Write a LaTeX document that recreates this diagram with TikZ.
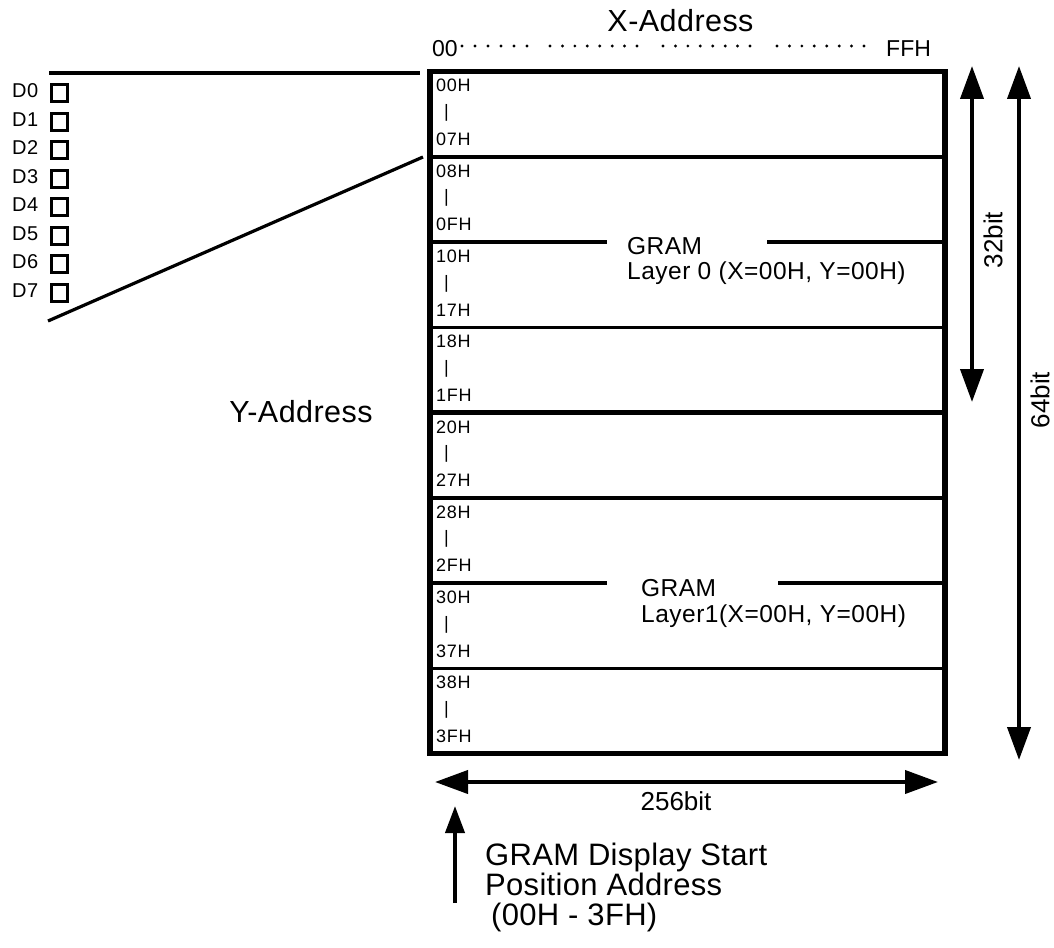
\documentclass[tikz,border=0pt]{standalone}
\usepackage{fontspec}
\setmainfont{Liberation Sans}
\usetikzlibrary{arrows.meta}
\newcommand\fsz[2]{\fontsize{#1}{#1}\selectfont\addfontfeatures{LetterSpace=#2}}
\begin{document}
\begin{tikzpicture}[x=1pt,y=-1pt,
  rowlbl/.style={font=\fsz{18}{4},inner sep=0,anchor=base west},
  dlbl/.style={font=\fsz{20}{3},inner sep=0,anchor=base west},
  dbox/.style={draw,line width=3pt,minimum width=16pt,minimum height=17pt,inner sep=0},
  biglbl/.style={font=\fsz{30.5}{1.5},inner sep=0,anchor=base},
  addrlbl/.style={font=\fsz{23}{0},inner sep=0,anchor=base west},
  gramlbl/.style={font=\fsz{24.5}{2},inner sep=0,anchor=base west},
  notelbl/.style={font=\fsz{31}{1},inner sep=0,anchor=base west},
  dimlbl/.style={font=\fsz{26}{0},inner sep=0},
  divider/.style={line width=3.5pt},
  thickdiv/.style={line width=5.5pt},
  dimarrow/.style={line width=4pt,{Triangle[length=33pt,width=23pt]}-{Triangle[length=33pt,width=23pt]}},
  uparrow/.style={line width=4pt,-{Triangle[length=27pt,width=19pt]}},
  wire/.style={line width=3.2pt},
  xdot/.style={fill,circle,inner sep=0,minimum size=3.2pt}
]
\useasboundingbox (0,0) rectangle (1054,947);

% GRAM box
\node[draw,line width=5.5pt,minimum width=515pt,minimum height=682pt,inner sep=0,outer sep=0,anchor=north west] (gram) at (430,71.5) {};

% dividers
\foreach \yy in {156.75,327.25,497.75,668.25}{
  \draw[divider] (430,\yy) -- (945,\yy);
}
\draw[thickdiv] (430,412.5) -- (945,412.5);
\draw[divider] (430,242) -- (607,242);
\draw[divider] (767,242) -- (945,242);
\draw[divider] (430,583) -- (607,583);
\draw[divider] (778,583) -- (945,583);

% row labels
\foreach \k/\a/\b in {0/00H/07H,1/08H/0FH,2/10H/17H,3/18H/1FH,4/20H/27H,5/28H/2FH,6/30H/37H,7/38H/3FH}{
  \pgfmathsetmacro\t{71.5+85.25*\k}
  \node[rowlbl] (s\k) at (436,\t+20.5) {\a};
  \node[rowlbl] (m\k) at (444,\t+46) {|};
  \node[rowlbl] (e\k) at (436,\t+74) {\b};
}

% layer labels
\node[gramlbl] (g0a) at (627,254) {GRAM};
\node[gramlbl] (g0b) at (627,279) {Layer 0 (X=00H, Y=00H)};
\node[gramlbl] (g1a) at (641,596) {GRAM};
\node[gramlbl] (g1b) at (641,622) {Layer1(X=00H, Y=00H)};

% X address
\node[biglbl] (xaddr) at (680.5,32) {X-Address};
\node[addrlbl] (x00) at (432,57) {00};
\node[addrlbl] (xff) at (886,57) {FFH};
\foreach \i in {0,...,5}{ \node[xdot] (da\i) at (462+13*\i,46) {}; }
\foreach \i in {0,...,7}{
  \node[xdot] (db\i) at (550+12.43*\i,46) {};
  \node[xdot] (dc\i) at (663+12.43*\i,46) {};
  \node[xdot] (dd\i) at (777+12.43*\i,46) {};
}

% Y address
\node[biglbl] (yaddr) at (301,422) {Y-Address};

% data bits
\foreach \i in {0,...,7}{
  \node[dlbl] (d\i) at (12,98+28.45*\i) {D\i};
  \node[dbox] (q\i) at (59,93.5+28.45*\i) {};
}
\coordinate (wa1) at (49,73);
\coordinate (wa2) at (420,73);
\coordinate (wb1) at (423,157);
\coordinate (wb2) at (48,321);
\draw[wire] (wa1) -- (wa2);
\draw[wire] (wb1) -- (wb2);

% dimension arrows
\coordinate (h1) at (435,782);
\coordinate (h2) at (938,782);
\draw[dimarrow] (h1) -- (h2);
\node[dimlbl,anchor=base] (w256) at (676,810) {256bit};

\coordinate (v1a) at (972,66);
\coordinate (v1b) at (972,402);
\draw[dimarrow] (v1a) -- (v1b);
\node[dimlbl,rotate=90] (h32) at (993,240) {32bit};

\coordinate (v2a) at (1019,66);
\coordinate (v2b) at (1019,760);
\draw[dimarrow] (v2a) -- (v2b);
\node[dimlbl,rotate=90] (h64) at (1040,400) {64bit};

% start position arrow
\coordinate (ua) at (455,903);
\coordinate (ub) at (455,806);
\draw[uparrow] (ua) -- (ub);
\node[notelbl] (n1) at (485,865) {GRAM Display Start};
\node[notelbl] (n2) at (485,895) {Position Address};
\node[notelbl] (n3) at (491,925) {(00H - 3FH)};
\end{tikzpicture}
\end{document}
